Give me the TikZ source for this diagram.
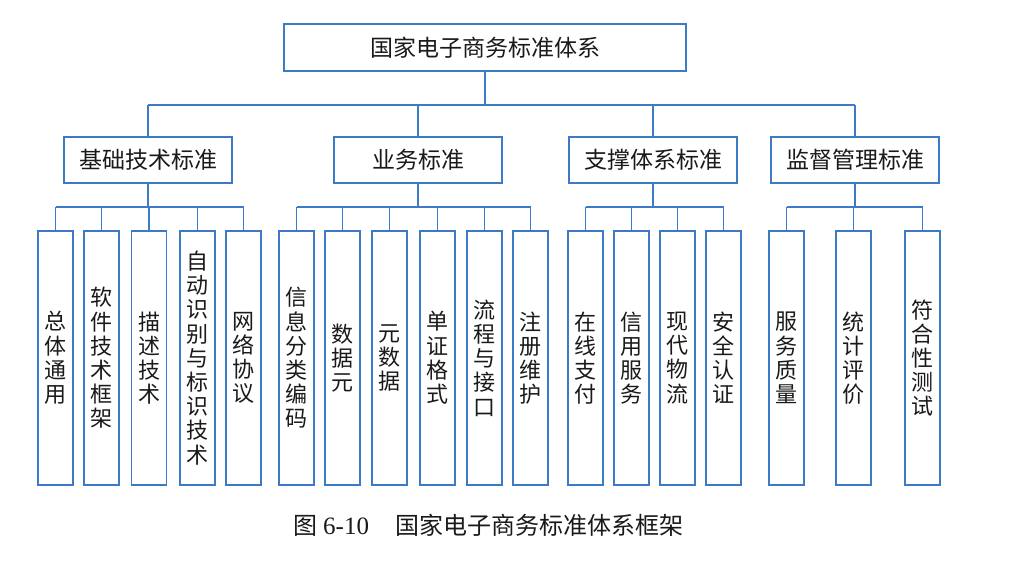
\documentclass[tikz,border=0pt]{standalone}
\usepackage{fontspec}
\setmainfont{Noto Sans CJK SC}
\newfontfamily\serifnum{Liberation Serif}
\begin{document}
\begin{tikzpicture}[x=1pt,y=-1pt,
  line/.style={draw=lineblue, line width=1.6pt},
  topbox/.style={line, fill=white, minimum width=402, minimum height=47, inner sep=0,
    font=\fontsize{23}{26}\selectfont, text=txt},
  midbox/.style={line, fill=white, minimum width=168, minimum height=46, inner sep=0,
    font=\fontsize{23}{26}\selectfont, text=txt},
  leafbox/.style={line, fill=white, minimum width=35, minimum height=254, inner sep=0,
    align=center, font=\fontsize{22}{24.2}\selectfont, text=txt},
  conn/.style={draw=lineblue, line width=1.6pt}]
\definecolor{lineblue}{HTML}{3D7BC8}
\definecolor{txt}{HTML}{1A1A1A}
\useasboundingbox (0,0) rectangle (1018,560);
\fill[white] (0,0) rectangle (1018,560);

\coordinate (b0) at (0,105);
\coordinate (b1) at (0,207);

% top
\node[topbox] (top) at (485,47.5) {国家电子商务标准体系};
% level 2
\node[midbox] (g1) at (148,160) {基础技术标准};
\node[midbox] (g2) at (418,160) {业务标准};
\node[midbox] (g3) at (653,160) {支撑体系标准};
\node[midbox] (g4) at (855,160) {监督管理标准};

% leaves
\node[leafbox] (a1) at (55.5,358) {总\\体\\通\\用};
\node[leafbox] (a2) at (101.5,358) {软\\件\\技\\术\\框\\架};
\node[leafbox] (a3) at (149,358) {描\\述\\技\\术};
\node[leafbox] (a4) at (197.5,358) {自\\动\\识\\别\\与\\标\\识\\技\\术};
\node[leafbox] (a5) at (243.5,358) {网\\络\\协\\议};

\node[leafbox] (d1) at (296.5,358) {信\\息\\分\\类\\编\\码};
\node[leafbox] (d2) at (342.5,358) {数\\据\\元};
\node[leafbox] (d3) at (389.5,358) {元\\数\\据};
\node[leafbox] (d4) at (437.5,358) {单\\证\\格\\式};
\node[leafbox] (d5) at (484.5,358) {流\\程\\与\\接\\口};
\node[leafbox] (d6) at (530.5,358) {注\\册\\维\\护};

\node[leafbox] (s1) at (585.5,358) {在\\线\\支\\付};
\node[leafbox] (s2) at (631.5,358) {信\\用\\服\\务};
\node[leafbox] (s3) at (677.5,358) {现\\代\\物\\流};
\node[leafbox] (s4) at (723.5,358) {安\\全\\认\\证};

\node[leafbox] (m1) at (786.5,358) {服\\务\\质\\量};
\node[leafbox] (m2) at (853.5,358) {统\\计\\评\\价};
\node[leafbox] (m3) at (922.5,358) {符\\合\\性\\测\\试};

% connectors top -> level 2
\draw[conn] (top.south) -- (top.south |- b0);
\draw[conn] (g1.north |- b0) -- (g4.north |- b0);
\foreach \g in {g1,g2,g3,g4} \draw[conn] (\g.north |- b0) -- (\g.north);

% group connectors
\draw[conn] (g1.south) -- (g1.south |- b1);
\draw[conn] (a1.north |- b1) -- (a5.north |- b1);
\foreach \c in {a1,a2,a3,a4,a5} \draw[conn] (\c.north |- b1) -- (\c.north);

\draw[conn] (g2.south) -- (g2.south |- b1);
\draw[conn] (d1.north |- b1) -- (d6.north |- b1);
\foreach \c in {d1,d2,d3,d4,d5,d6} \draw[conn] (\c.north |- b1) -- (\c.north);

\draw[conn] (g3.south) -- (g3.south |- b1);
\draw[conn] (s1.north |- b1) -- (s4.north |- b1);
\foreach \c in {s1,s2,s3,s4} \draw[conn] (\c.north |- b1) -- (\c.north);

\draw[conn] (g4.south) -- (g4.south |- b1);
\draw[conn] (m1.north |- b1) -- (m3.north |- b1);
\foreach \c in {m1,m2,m3} \draw[conn] (\c.north |- b1) -- (\c.north);

% caption
\node[text=txt, font=\fontsize{24}{26}\selectfont, anchor=west, inner sep=0] (cap) at (293,525)
  {图\hspace{6pt}{\serifnum\fontsize{25}{26}\selectfont 6-10}\hspace{26pt}国家电子商务标准体系框架};
\end{tikzpicture}
\end{document}
